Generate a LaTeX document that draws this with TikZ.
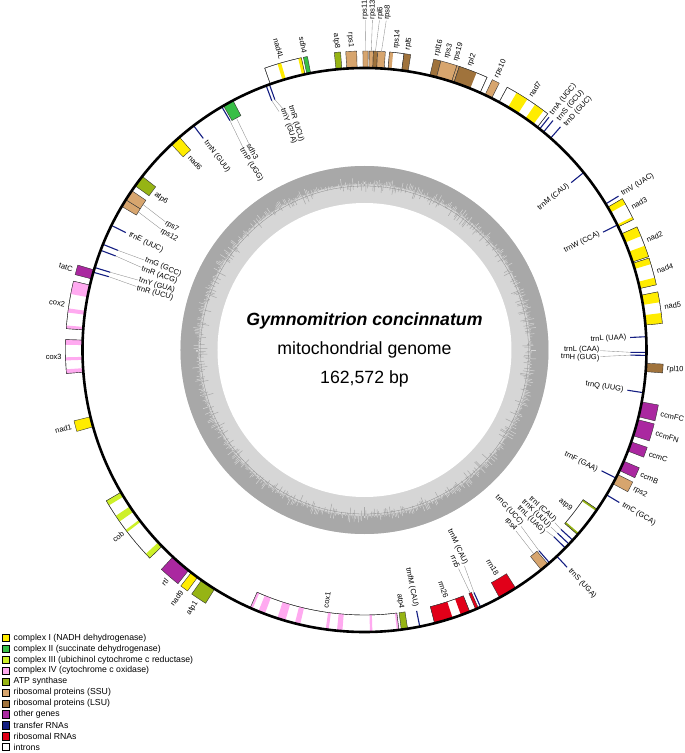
\documentclass[tikz,border=0pt]{standalone}
\usepackage{fontspec}
\setmainfont{Liberation Sans}
\usetikzlibrary{positioning}

\definecolor{cI}{RGB}{255,236,0}
\definecolor{cII}{RGB}{56,190,70}
\definecolor{cIII}{RGB}{205,240,40}
\definecolor{cIV}{RGB}{255,170,240}
\definecolor{atpc}{RGB}{150,180,20}
\definecolor{ssu}{RGB}{215,165,110}
\definecolor{lsu}{RGB}{160,115,60}
\definecolor{othg}{RGB}{170,40,160}
\definecolor{trnac}{RGB}{20,30,130}
\definecolor{rrnac}{RGB}{225,0,25}
\definecolor{gcdark}{RGB}{168,168,168}
\definecolor{gclight}{RGB}{214,214,214}

% angles run clockwise from the top, radii in pt
\newcommand{\arcbox}[5]{%
  \path[#5] ({90-(#1)}:#3pt) arc[start angle={90-(#1)}, end angle={90-(#2)}, radius=#3pt]
    -- ({90-(#2)}:#4pt) arc[start angle={90-(#2)}, end angle={90-(#1)}, radius=#4pt] -- cycle;}
\newcommand{\genout}[3]{\arcbox{#1}{#2}{282}{299}{gene, fill=#3}}
\newcommand{\genin}[3]{\arcbox{#1}{#2}{265}{282}{gene, fill=#3}}
\newcommand{\exout}[3]{\arcbox{#1}{#2}{282}{299}{fill=#3}}
\newcommand{\exin}[3]{\arcbox{#1}{#2}{265}{282}{fill=#3}}
\newcommand{\boxout}[2]{\arcbox{#1}{#2}{282}{299}{gene}}
\newcommand{\boxin}[2]{\arcbox{#1}{#2}{265}{282}{gene}}
\newcommand{\trnout}[1]{\draw[trna] ({90-(#1)}:282pt) -- ({90-(#1)}:297pt);}
\newcommand{\trnin}[1]{\draw[trna] ({90-(#1)}:282pt) -- ({90-(#1)}:266pt);}
% label: name, angle, radius, o/i, text
\newcommand{\genlab}[5]{%
  \pgfmathsetmacro\labrot{(#2)<180 ? 90-(#2) : 270-(#2)}%
  \ifdim #2pt<180pt
    \if#4o\def\labanc{west}\else\def\labanc{east}\fi
  \else
    \if#4o\def\labanc{east}\else\def\labanc{west}\fi
  \fi
  \node[glabel, anchor=\labanc, rotate=\labrot] (#1) at ({90-(#2)}:#3pt) {#5};}
\newcommand{\genlead}[3]{\draw[leader] ({90-(#1)}:#2pt) -- (#3);}

\begin{document}
\begin{tikzpicture}[x=1pt, y=1pt,
  gene/.style={draw=black!80, line width=0.4pt},
  trna/.style={draw=trnac, line width=1.1pt},
  leader/.style={draw=black!45, line width=0.35pt},
  glabel/.style={font=\fontsize{7.5}{8}\selectfont, inner sep=0.8pt},
  legbox/.style={draw=black, line width=0.4pt, minimum size=7.3pt, inner sep=0pt},
  legtext/.style={font=\fontsize{8.7}{9}\selectfont, inner sep=0pt},
  mainring/.style={line width=2.6pt}
]
\useasboundingbox (-364.5,-403) rectangle (320.5,350);

% GC content ring
\fill[gclight] (0,0) circle[radius=184pt];
\fill[white] (0,0) circle[radius=147pt];
\fill[gcdark, even odd rule] (0,0) circle[radius=184pt] circle[radius=166pt];
\pgfmathsetseed{7}
\foreach \a in {0,0.5,...,359.5}{
  \pgfmathsetmacro\up{166+7*rnd^2}
  \pgfmathsetmacro\dn{166-9*rnd^3}
  \draw[gclight, line width=0.5pt] (\a:166pt) -- (\a:\up pt);
  \draw[gcdark, line width=0.5pt] (\a:166pt) -- (\a:\dn pt);
}
\draw[black!45, line width=0.3pt] (0,0) circle[radius=164pt];

% outer genes
\genout{340.5}{347.8}{white} \exout{343.1}{343.8}{cI} \exout{347.2}{347.8}{cI} \boxout{340.5}{347.8}
\genout{348.2}{349.0}{cII}
\genout{354.2}{355.4}{atpc}
\genout{356.4}{358.5}{ssu}
\genout{-0.3}{0.7}{ssu}
\genout{0.9}{1.7}{ssu}
\genout{1.7}{2.5}{lsu}
\genout{2.5}{4.0}{ssu}
\genout{4.8}{7.6}{white} \exout{4.8}{5.5}{ssu} \boxout{4.8}{7.6}
\genout{7.6}{8.9}{lsu}
\genout{13.4}{14.8}{lsu}
\genout{14.8}{18.0}{ssu}
\genout{18.0}{18.5}{ssu}
\genout{18.5}{24.2}{white} \exout{18.5}{22.0}{lsu} \boxout{18.5}{24.2}
\genout{25.3}{26.8}{ssu}
\genout{28.5}{37.8}{white} \exout{30.6}{33.0}{cI} \exout{34.8}{36.8}{cI} \boxout{28.5}{37.8}
\trnout{38.4} \trnout{39.4} \trnout{41.3}
\trnout{58.8}
\genout{59.6}{64.1}{white} \exout{59.6}{60.8}{cI} \exout{63.6}{64.1}{cI} \boxout{59.6}{64.1}
\genout{65.7}{71.8}{white} \exout{65.7}{67.6}{cI} \exout{69.6}{71.8}{cI} \boxout{65.7}{71.8}
\genout{72.1}{77.4}{white} \exout{72.1}{73.3}{cI} \exout{76.0}{77.4}{cI} \boxout{72.1}{77.4}
\genout{78.8}{84.9}{white} \exout{78.8}{80.8}{cI} \exout{82.9}{84.9}{cI} \boxout{78.8}{84.9}
\genout{92.7}{94.4}{lsu}
\genout{100.6}{103.7}{othg}
\genout{104.3}{107.7}{othg}
\genout{109.0}{111.0}{othg}
\genout{113.2}{115.3}{othg}
\genout{116.2}{118.3}{ssu}
\trnout{120.9}
\trnout{137.0}
\genout{212.1}{215.3}{atpc}
\genout{216.3}{217.9}{cI}
\genout{218.6}{222.8}{othg}
\genout{225.9}{239.7}{white} \exout{225.9}{227.0}{cIII} \exout{232.5}{233.0}{cIII} \exout{235.0}{236.3}{cIII} \exout{238.7}{239.7}{cIII} \boxout{225.9}{239.7}
\genout{254.2}{256.3}{cI}
\genout{265.5}{272.0}{white} \exout{265.5}{266.3}{cIV} \exout{268.0}{268.6}{cIV} \exout{271.0}{272.0}{cIV} \boxout{265.5}{272.0}
\genout{274.1}{283.3}{white} \exout{274.1}{274.7}{cIV} \exout{277.2}{278.0}{cIV} \exout{280.8}{283.3}{cIV} \boxout{274.1}{283.3}
\genout{284.6}{286.5}{othg}

% inner genes
\trnin{339.6} \trnin{340.3}
\trnin{329.6} \genin{330.0}{332.2}{cII}
\trnin{322.7}
\genin{316.8}{319.0}{cI}
\genin{305.6}{308.0}{atpc}
\genin{300.6}{302.2}{ssu} \genin{302.2}{304.4}{ssu}
\trnin{296.2}
\trnin{292.0} \trnin{290.7}
\trnin{287.0} \trnin{286.0}
\genin{173.0}{203.9}{white}
\foreach \s/\e in {173.0/173.4, 178.4/178.9, 184.5/185.6, 187.3/187.9, 193.2/194.3, 196.3/198.0, 200.7/202.1, 203.4/203.9}
  {\exin{\s}{\e}{cIV}}
\boxin{173.0}{203.9}
\genin{171.2}{172.5}{atpc}
\trnin{168.7}
\genin{158.1}{165.6}{white} \exin{158.1}{160.0}{rrnac} \exin{161.8}{165.6}{rrnac} \boxin{158.1}{165.6}
\genin{156.2}{156.8}{rrnac} \trnin{155.7}
\genin{147.6}{151.4}{rrnac}
\genin{139.4}{141.2}{ssu} \trnin{139.0}
\trnin{132.4} \trnin{133.5} \trnin{134.6}
\genin{124.4}{130.9}{white} \exin{124.4}{124.8}{atpc} \exin{130.5}{130.9}{atpc} \boxin{124.4}{130.9}
\trnin{117.0}
\trnin{98.7}
\trnin{90.5} \trnin{91.1}
\trnin{87.3}
\trnin{63.7}
\trnin{51.0}

% genome circle
\draw[mainring] (0,0) circle[radius=282pt];

% outer labels
\genlab{l-nad4L}{344.1}{302}{o}{nad4L}
\genlab{l-sdh4}{348.6}{302}{o}{sdh4}
\genlab{l-atp8}{354.8}{302}{o}{atp8}
\genlab{l-rps1}{357.4}{302}{o}{rps1}
\genlab{l-rps11}{0.1}{330}{o}{rps11}
\genlab{l-rps13}{1.4}{330}{o}{rps13}
\genlab{l-rpl6}{2.7}{330}{o}{rpl6}
\genlab{l-rps8}{3.9}{330}{o}{rps8}
\genlead{0.2}{299}{l-rps11}
\genlead{1.3}{299}{l-rps13}
\genlead{2.1}{299}{l-rpl6}
\genlead{3.25}{299}{l-rps8}
\genlab{l-rps14}{6.0}{302}{o}{rps14}
\genlab{l-rpl5}{8.2}{302}{o}{rpl5}
\genlab{l-rpl16}{13.8}{302}{o}{rpl16}
\genlab{l-rps3}{15.7}{302}{o}{rps3}
\genlab{l-rps19}{17.5}{302}{o}{rps19}
\genlab{l-rpl2}{20.3}{302}{o}{rpl2}
\genlab{l-rps10}{25.8}{302}{o}{rps10}
\genlab{l-nad7}{33.2}{302}{o}{nad7}
\genlab{l-trnA}{38.4}{300}{o}{trnA (UGC)}
\genlab{l-trnS}{40.1}{300}{o}{trnS (GCU)}
\genlab{l-trnD}{41.8}{300}{o}{trnD (GUC)}
\genlab{l-trnV}{58.8}{300}{o}{trnV (UAC)}
\genlab{l-nad3}{61.9}{302}{o}{nad3}
\genlab{l-nad2}{68.7}{302}{o}{nad2}
\genlab{l-nad4}{74.8}{302}{o}{nad4}
\genlab{l-nad5}{81.8}{302}{o}{nad5}
\genlab{l-rpl10}{93.6}{302}{o}{rpl10}
\genlab{l-ccmFC}{102.2}{302}{o}{ccmFC}
\genlab{l-ccmFN}{106.0}{302}{o}{ccmFN}
\genlab{l-ccmC}{110.0}{302}{o}{ccmC}
\genlab{l-ccmB}{114.2}{302}{o}{ccmB}
\genlab{l-rps2}{117.3}{302}{o}{rps2}
\genlab{l-trnC}{120.9}{300}{o}{trnC (GCA)}
\genlab{l-trnSb}{137.0}{300}{o}{trnS (UGA)}
\genlab{l-atp1}{213.7}{302}{o}{atp1}
\genlab{l-nad9}{217.1}{302}{o}{nad9}
\genlab{l-rtl}{220.7}{302}{o}{rtl}
\genlab{l-cob}{232.8}{302}{o}{cob}
\genlab{l-nad1}{255.3}{302}{o}{nad1}
\genlab{l-cox3}{268.8}{302}{o}{cox3}
\genlab{l-cox2}{278.7}{302}{o}{cox2}
\genlab{l-tatC}{285.5}{302}{o}{tatC}

% inner labels
\genlab{l-trnYa}{341.3}{256}{i}{trnY (GUA)}
\genlab{l-trnRa}{343.2}{256}{i}{trnR (UCU)}
\genlead{339.6}{266}{l-trnYa}
\genlead{340.3}{266}{l-trnRa}
\genlab{l-sdh3}{330.6}{237}{i}{sdh3}
\genlab{l-trnP}{328.6}{237}{i}{trnP (UGG)}
\genlead{331.1}{265}{l-sdh3}
\genlead{329.6}{266}{l-trnP}
\genlab{l-trnN}{322.7}{263}{i}{trnN (GUU)}
\genlab{l-nad6}{317.9}{262}{i}{nad6}
\genlab{l-atp6}{306.7}{262}{i}{atp6}
\genlab{l-rps7}{302.6}{237}{i}{rps7}
\genlab{l-rps12}{300.4}{237}{i}{rps12}
\genlead{303.3}{265}{l-rps7}
\genlead{301.4}{265}{l-rps12}
\genlab{l-trnE}{296.2}{263}{i}{trnE (UUC)}
\genlab{l-trnG}{292.4}{238}{i}{trnG (GCC)}
\genlab{l-trnRb}{290.0}{238}{i}{trnR (ACG)}
\genlead{292.0}{266}{l-trnG}
\genlead{290.7}{266}{l-trnRb}
\genlab{l-trnYb}{287.3}{237}{i}{trnY (GUA)}
\genlab{l-trnRc}{285.2}{237}{i}{trnR (UCU)}
\genlead{287.0}{266}{l-trnYb}
\genlead{286.0}{266}{l-trnRc}
\genlab{l-cox1}{188.5}{262}{i}{cox1}
\genlab{l-atp4}{171.9}{262}{i}{atp4}
\genlab{l-trnfM}{168.7}{263}{i}{trnfM (CAU)}
\genlab{l-rrn26}{161.8}{262}{i}{rrn26}
\genlab{l-trnMb}{154.7}{238}{i}{trnM (CAU)}
\genlab{l-rrn5}{156.8}{238}{i}{rrn5}
\genlead{155.7}{266}{l-trnMb}
\genlead{156.5}{265}{l-rrn5}
\genlab{l-rrn18}{149.5}{262}{i}{rrn18}
\genlab{l-trnGb}{137.9}{236}{i}{trnG (UCC)}
\genlab{l-rps4}{140.0}{236}{i}{rps4}
\genlead{139.0}{266}{l-trnGb}
\genlead{140.3}{265}{l-rps4}
\genlab{l-trnI}{131.8}{257}{i}{trnI (CAU)}
\genlab{l-trnK}{133.6}{257}{i}{trnK (UUU)}
\genlab{l-trnLc}{135.5}{257}{i}{trnL (UAG)}
\genlead{132.4}{266}{l-trnI}
\genlead{133.5}{266}{l-trnK}
\genlead{134.6}{266}{l-trnLc}
\genlab{l-atp9}{127.6}{262}{i}{atp9}
\genlab{l-trnF}{117.3}{263}{i}{trnF (GAA)}
\genlab{l-trnQ}{98.7}{263}{i}{trnQ (UUG)}
\genlab{l-trnLb}{89.9}{236}{i}{trnL (CAA)}
\genlab{l-trnH}{92.0}{236}{i}{trnH (GUG)}
\genlead{90.5}{266}{l-trnLb}
\genlead{91.1}{266}{l-trnH}
\genlab{l-trnLa}{87.3}{263}{i}{trnL (UAA)}
\genlab{l-trnW}{63.7}{263}{i}{trnW (CCA)}
\genlab{l-trnMa}{51.0}{263}{i}{trnM (CAU)}

% centre text
\node[font=\fontsize{17.7}{20}\selectfont\bfseries\itshape] (title) at (0,29) {Gymnomitrion concinnatum};
\node[font=\fontsize{17.7}{20}\selectfont] (kind) at (0,0) {mitochondrial genome};
\node[font=\fontsize{17.7}{20}\selectfont] (size) at (0,-28.5) {162,572 bp};

% legend
\begin{scope}[shift={(-359.1,-288)}]
\foreach \c/\t [count=\i from 0] in {cI/complex I (NADH dehydrogenase), cII/complex II (succinate dehydrogenase), cIII/complex III (ubichinol cytochrome c reductase), cIV/complex IV (cytochrome c oxidase), atpc/ATP synthase, ssu/ribosomal proteins (SSU), lsu/ribosomal proteins (LSU), othg/other genes, trnac/transfer RNAs, rrnac/ribosomal RNAs, white/introns}{
  \node[legbox, fill=\c] (leg\i) at (0,-10.9*\i) {};
  \node[legtext, right=4.3pt of leg\i] (legt\i) {\t};
}
\end{scope}
\end{tikzpicture}
\end{document}
